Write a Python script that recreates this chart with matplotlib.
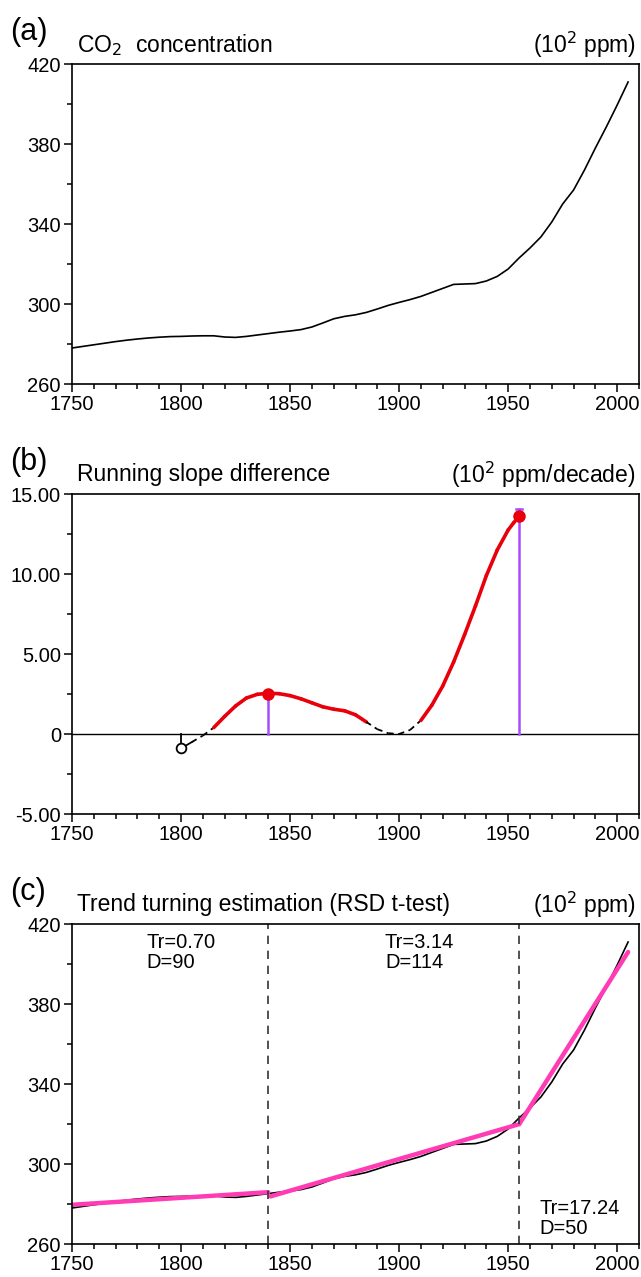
import matplotlib
matplotlib.use("Agg")
import matplotlib.pyplot as plt
from matplotlib.ticker import MultipleLocator, FixedLocator, FuncFormatter

plt.rcParams['font.family'] = ['Liberation Sans', 'DejaVu Sans']

# CO2 concentration, every 5 years
years = list(range(1750, 2010, 5))
co2 = [278.0, 278.8, 279.6, 280.4, 281.2, 281.9, 282.5, 283.0, 283.4, 283.7,
       283.8, 284.0, 284.1, 284.1, 283.5, 283.3, 283.8, 284.5, 285.2, 285.9,
       286.5, 287.2, 288.5, 290.5, 292.6, 293.8, 294.6, 295.8, 297.5, 299.3,
       300.8, 302.2, 303.8, 305.8, 307.8, 309.8, 310.0, 310.2, 311.5, 313.8,
       317.5, 323.0, 328.0, 333.5, 341.0, 350.0, 357.0, 367.0, 378.0, 388.5,
       399.5, 411.0]

# running slope difference, panel (b)
rs_years = [1800, 1805, 1810, 1815, 1820, 1825, 1830, 1835, 1840, 1845,
            1850, 1855, 1860, 1865, 1870, 1875, 1880, 1885, 1890, 1895,
            1900, 1905, 1910, 1915, 1920, 1925, 1930, 1935, 1940, 1945,
            1950, 1952.5, 1955]
rs_vals = [-0.9, -0.5, -0.1, 0.4, 1.1, 1.75, 2.25, 2.48, 2.55, 2.52,
           2.4, 2.2, 1.95, 1.7, 1.55, 1.45, 1.2, 0.75, 0.3, 0.05,
           0.0, 0.25, 0.85, 1.8, 3.0, 4.5, 6.2, 8.0, 9.9, 11.5,
           12.75, 13.2, 13.6]
# 0 = black solid, 1 = black dashed, 2 = red (significant)
rs_style = [0, 1, 1, 2, 2, 2, 2, 2, 2, 2,
            2, 2, 2, 2, 2, 2, 2, 2, 1, 1,
            1, 1, 2, 2, 2, 2, 2, 2, 2, 2,
            2, 2, 2]
turn_vals = [2.5, 13.6]
turn_tops = [2.6, 14.05]

# trend turning points and piecewise fits, panel (c)
turn_years = [1840, 1955]
seg_start = [1750, 1841, 1955]
seg_end = [1840, 1954, 2005]
seg_v0 = [279.6, 283.8, 319.8]
seg_v1 = [285.9, 319.6, 406.0]
seg_tr = ["0.70", "3.14", "17.24"]
seg_d = ["90", "114", "50"]
label_xy = [(1784, 415.5), (1893.5, 415.5), (1964.5, 282.5)]

W, H = 641, 1277
fig = plt.figure(figsize=(W / 100, H / 100), dpi=100)

left = 72 / W
width = (639 - 72) / W
height = 320 / H
bottoms = [1 - 384 / H, 1 - 814 / H, 1 - 1244 / H]
axes = [fig.add_axes([left, b, width, height]) for b in bottoms]

tick_fs = 14.5
title_fs = 16.5
for ax in axes:
    ax.set_xlim(1750, 2010)
    ax.xaxis.set_major_locator(FixedLocator([1750, 1800, 1850, 1900, 1950, 2000]))
    ax.xaxis.set_minor_locator(MultipleLocator(10))
    for s in ['left', 'bottom', 'top', 'right']:
        ax.spines[s].set_linewidth(1.2)
    ax.tick_params(which='both', top=False, right=False, direction='out',
                   labelsize=tick_fs, width=1.1)
    ax.tick_params(which='major', length=6, pad=2)
    ax.tick_params(which='minor', length=3.5)

ppm_ticks = [260, 300, 340, 380, 420]
ppm_minor = [280, 320, 360, 400]

# (a)
ax = axes[0]
ax.plot(years, co2, color='black', lw=1.2)
ax.set_ylim(260, 420)
ax.yaxis.set_major_locator(FixedLocator(ppm_ticks))
ax.yaxis.set_minor_locator(FixedLocator(ppm_minor))

# (b)
ax = axes[1]
ax.axhline(0, color='black', lw=1.0)
for i in range(len(rs_years) - 1):
    xs = rs_years[i:i + 2]
    ys = rs_vals[i:i + 2]
    if rs_style[i] == 2 and rs_style[i + 1] == 2:
        ax.plot(xs, ys, color='#e8000b', lw=2.6, solid_capstyle='round')
    elif rs_style[i] == 0:
        ax.plot(xs, ys, color='black', lw=1.3)
    else:
        ax.plot(xs, ys, color='black', lw=1.3, ls=(0, (3, 2.5)))
ax.plot([1800, 1800], [0, rs_vals[0]], color='black', lw=1.3)
ax.plot(1800, rs_vals[0], 'o', mfc='white', mec='black', ms=7, mew=1.3)
for ty, tv, top in zip(turn_years, turn_vals, turn_tops):
    ax.plot([ty, ty], [0, top], color='#a64dff', lw=1.8, zorder=3)
    ax.plot([ty - 1.2, ty + 1.2], [top, top], color='#a64dff', lw=1.8, zorder=3)
    ax.plot(ty, tv, 'o', color='#e8000b', ms=8, zorder=4)
ax.set_ylim(-5, 15)
ax.yaxis.set_major_locator(MultipleLocator(5))
ax.yaxis.set_minor_locator(MultipleLocator(2.5))
ax.yaxis.set_major_formatter(FuncFormatter(
    lambda v, p: '0' if abs(v) < 1e-9 else '%.2f' % v))

# (c)
ax = axes[2]
ax.plot(years, co2, color='black', lw=1.2)
for x0, x1, v0, v1 in zip(seg_start, seg_end, seg_v0, seg_v1):
    ax.plot([x0, x1], [v0, v1], color='#ff3cb4', lw=3.2, solid_capstyle='round')
for ty in turn_years:
    ax.axvline(ty, color='#333333', lw=1.2, ls=(0, (5, 4)))
for (lx, ly), tr, d in zip(label_xy, seg_tr, seg_d):
    ax.text(lx, ly, "Tr=%s\nD=%s" % (tr, d), fontsize=14.5, va='top', ha='left',
            linespacing=1.05)
ax.set_ylim(260, 420)
ax.yaxis.set_major_locator(FixedLocator(ppm_ticks))
ax.yaxis.set_minor_locator(FixedLocator(ppm_minor))

# titles
titles = [("(a)", "CO$_2$  concentration", "(10$^2$ ppm)"),
          ("(b)", "Running slope difference", "(10$^2$ ppm/decade)"),
          ("(c)", "Trend turning estimation (RSD t-test)", "(10$^2$ ppm)")]
tops = [64, 494, 924]
for (lab, t, u), top in zip(titles, tops):
    fig.text(10 / W, 1 - (top - 32) / H, lab, fontsize=22, va='center', ha='left')
    fig.text(77 / W, 1 - (top - 19) / H, t, fontsize=title_fs, va='center', ha='left')
    fig.text(636 / W, 1 - (top - 19) / H, u, fontsize=title_fs, va='center', ha='right')

fig.savefig("out.png", dpi=100)
